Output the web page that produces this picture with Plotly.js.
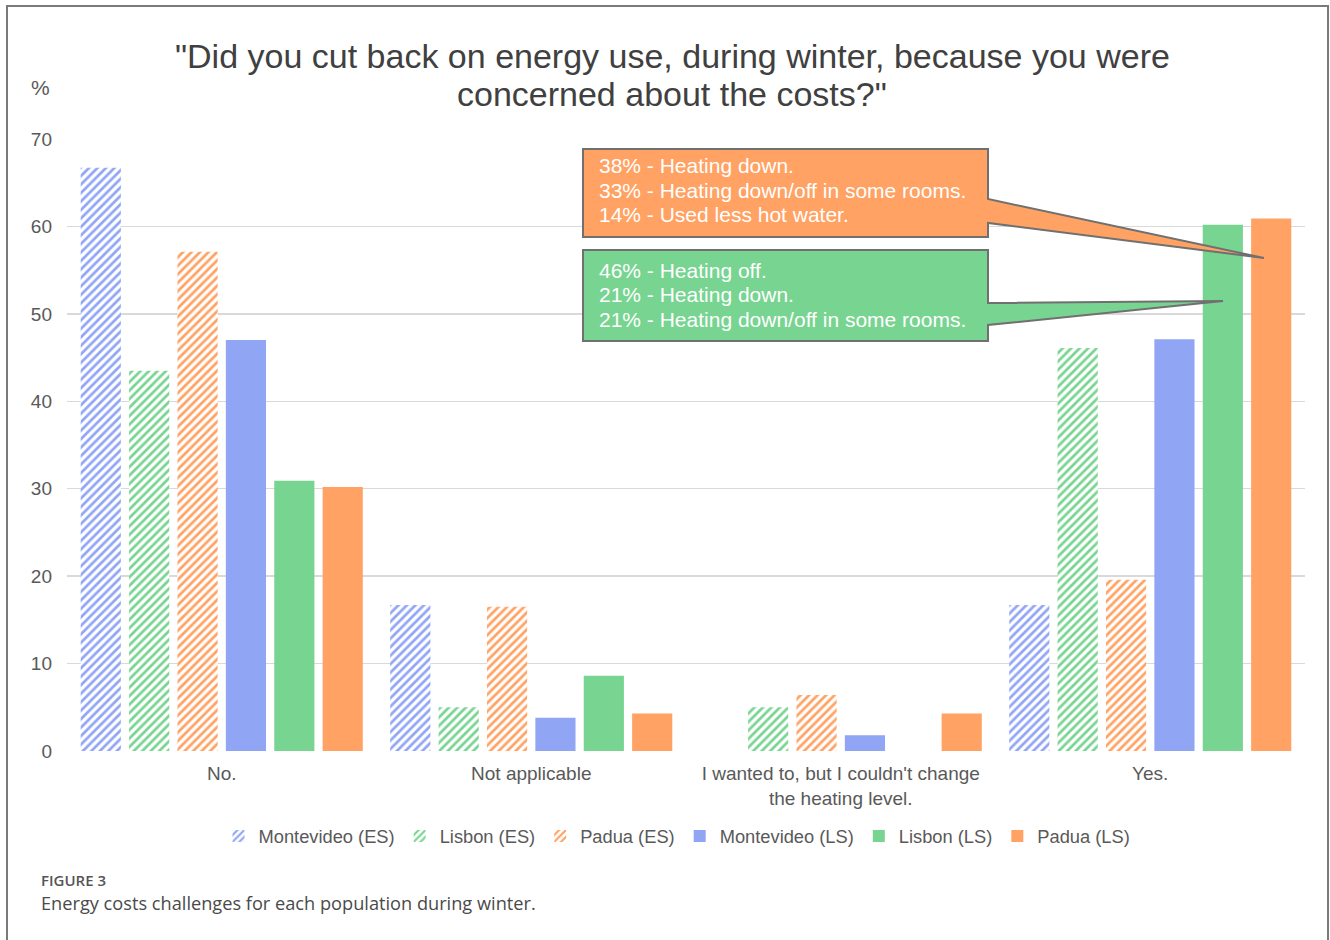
<!DOCTYPE html>
<html>
<head>
<meta charset="utf-8">
<script src="https://cdn.plot.ly/plotly-3.0.1.min.js"></script>
<style>
  html, body { margin: 0; padding: 0; background: #ffffff; }
  #chart { width: 1330px; height: 940px; }
</style>
</head>
<body>
<div id="chart"></div>
<script>
// Answer categories on the x axis
const categories = [
  "No.",
  "Not applicable",
  "I wanted to, but I couldn't change<br>the heating level.",
  "Yes."
];

// Share of respondents (%) per population, ES and LS samples
const montevideoES = [66.7, 16.7, 0, 16.7];
const lisbonES     = [43.5, 5.0, 5.0, 46.1];
const paduaES      = [57.1, 16.5, 6.4, 19.6];
const montevideoLS = [47.0, 3.8, 1.8, 47.1];
const lisbonLS     = [30.9, 8.6, 0, 60.2];
const paduaLS      = [30.2, 4.3, 4.3, 60.9];

const seriesNames = [
  "Montevideo (ES)", "Lisbon (ES)", "Padua (ES)",
  "Montevideo (LS)", "Lisbon (LS)", "Padua (LS)"
];

// Chart title, one entry per line
const titleLines = [
  "\"Did you cut back on energy use, during winter, because you were",
  "concerned about the costs?\""
];

// Callout texts for the "Yes." answers
const paduaCallout = [
  "38% - Heating down.",
  "33% - Heating down/off in some rooms.",
  "14% - Used less hot water."
];
const lisbonCallout = [
  "46% - Heating off.",
  "21% - Heating down.",
  "21% - Heating down/off in some rooms."
];

const yTicks = [0, 10, 20, 30, 40, 50, 60, 70];

// Colours
const BLUE = "#91a5f5";
const GREEN = "#78d491";
const ORANGE = "#ffa263";
const TEXT = "#595959";
const FONT = "Liberation Sans, Arial, sans-serif";
const CAPTION_FONT = "Open Sans, Noto Sans, sans-serif";

// Plot area in pixels (used to place decorations in paper units)
const W = 1330, H = 940;
const M = { l: 67, r: 25, t: 139, b: 189 };
const plotW = W - M.l - M.r;
const plotH = H - M.t - M.b;
const px = x => (x - M.l) / plotW;
const py = y => (H - M.b - y) / plotH;

function hatched(name, values, color) {
  return {
    type: "bar", name: name, x: categories, y: values,
    marker: {
      color: "#ffffff",
      pattern: { shape: "/", fgcolor: color, bgcolor: "#ffffff", size: 6, solidity: 0.45, fillmode: "replace" },
      line: { width: 0 }
    },
    hoverinfo: "y+name"
  };
}
function solid(name, values, color) {
  return {
    type: "bar", name: name, x: categories, y: values,
    marker: { color: color, line: { width: 0 } },
    hoverinfo: "y+name"
  };
}

const data = [
  hatched(seriesNames[0], montevideoES, BLUE),
  hatched(seriesNames[1], lisbonES, GREEN),
  hatched(seriesNames[2], paduaES, ORANGE),
  solid(seriesNames[3], montevideoLS, BLUE),
  solid(seriesNames[4], lisbonLS, GREEN),
  solid(seriesNames[5], paduaLS, ORANGE)
];

// Wedge-shaped callout: box with a pointed tail
function callout(box, tail, tip) {
  const [x0, y0, x1, y1] = box;
  return "M " + px(x0) + " " + py(y0) +
    " L " + px(x1) + " " + py(y0) +
    " L " + px(x1) + " " + py(tail[0]) +
    " L " + px(tip[0]) + " " + py(tip[1]) +
    " L " + px(x1) + " " + py(tail[1]) +
    " L " + px(x1) + " " + py(y1) +
    " L " + px(x0) + " " + py(y1) + " Z";
}

const shapes = [
  // figure frame
  { type: "rect", xref: "paper", yref: "paper",
    x0: px(7), x1: px(1328), y0: py(6), y1: py(990),
    line: { color: "#7a7a7a", width: 2 }, fillcolor: "rgba(0,0,0,0)", layer: "below" },
  { type: "path", xref: "paper", yref: "paper",
    path: callout([583, 149, 988, 237], [199, 223], [1264, 258]),
    fillcolor: ORANGE, line: { color: "#707070", width: 2 } },
  { type: "path", xref: "paper", yref: "paper",
    path: callout([583, 250, 988, 341], [303, 325], [1223, 301]),
    fillcolor: GREEN, line: { color: "#707070", width: 2 } }
];

function textLine(text, x, y, font, anchor) {
  return { xref: "paper", yref: "paper", x: px(x), y: py(y), text: text,
    showarrow: false, xanchor: anchor || "left", yanchor: "middle", align: "left", font: font };
}

const titleFont = { family: FONT, size: 34, color: "#404040" };
const calloutFont = { family: FONT, size: 21, color: "#ffffff" };

const annotations = [
  textLine(titleLines[0], 672, 56, titleFont, "center"),
  textLine(titleLines[1], 672, 94, titleFont, "center"),
  textLine("%", 40, 87, { family: FONT, size: 21, color: TEXT }, "center"),
  textLine("FIGURE 3", 39, 880, { family: CAPTION_FONT, size: 15, color: "#555555", weight: 600 }),
  textLine("Energy costs challenges for each population during winter.", 39, 903,
    { family: CAPTION_FONT, size: 18.2, color: "#4a4a4a" })
];
paduaCallout.forEach((t, i) => annotations.push(textLine(t, 597, 166 + 24 * i, calloutFont)));
lisbonCallout.forEach((t, i) => annotations.push(textLine(t, 597, 270 + 24.5 * i, calloutFont)));

const layout = {
  width: W, height: H,
  margin: M,
  paper_bgcolor: "#ffffff",
  plot_bgcolor: "#ffffff",
  font: { family: FONT, size: 19, color: TEXT },
  barmode: "group",
  bargap: 0.062,
  bargroupgap: 0.17,
  xaxis: {
    type: "category",
    showgrid: false, showline: false, zeroline: false,
    ticks: "",
    ticklabelstandoff: 9,
    tickfont: { family: FONT, size: 19, color: TEXT },
    fixedrange: true
  },
  yaxis: {
    range: [0, 70],
    tickvals: yTicks,
    showgrid: true, gridcolor: "#d9d9d9", gridwidth: 1.5,
    zeroline: false, showline: false, ticks: "",
    ticklabelstandoff: 14,
    tickfont: { family: FONT, size: 19, color: TEXT },
    fixedrange: true
  },
  legend: {
    orientation: "h",
    xref: "paper", x: px(677), xanchor: "center",
    yref: "paper", y: py(836), yanchor: "middle",
    font: { family: FONT, size: 18.3, color: TEXT },
    itemwidth: 30,
    traceorder: "normal"
  },
  shapes: shapes,
  annotations: annotations
};

Plotly.newPlot("chart", data, layout, { displayModeBar: false, staticPlot: true });
</script>
</body>
</html>
